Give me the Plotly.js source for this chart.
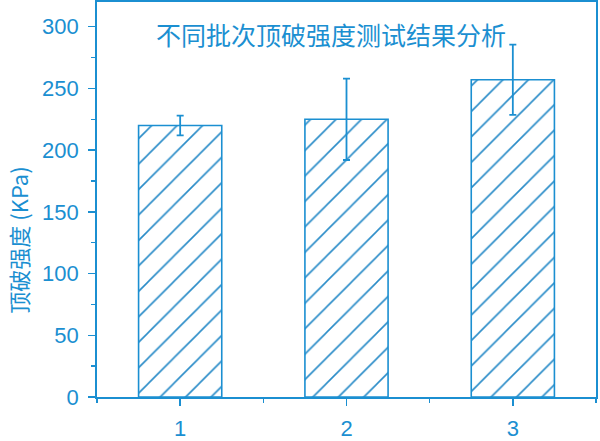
<!DOCTYPE html>
<html>
<head>
<meta charset="utf-8">
<script src="https://cdn.plot.ly/plotly-3.0.1.min.js"></script>
<style>
  body { margin: 0; background: #fff; }
  #chart { width: 600px; height: 441px; }
</style>
</head>
<body>
<div id="chart"></div>
<script>
// 不同批次顶破强度
var batches = [1, 2, 3];
var batchLabels = ['1', '2', '3'];
var strength = [220, 225, 257];
var strengthErr = [8, 33, 28.5];

var blue = '#1b8fd1';
var fontFam = '"Liberation Sans", Arial, "Noto Sans CJK SC", sans-serif';

var trace = {
  type: 'bar',
  x: batches,
  y: strength,
  width: 0.5,
  marker: {
    color: 'white',
    line: { color: blue, width: 1.6 },
    pattern: { shape: '/', fgcolor: '#2a8cc8', bgcolor: 'white', size: 18, solidity: 0.09 }
  },
  error_y: {
    type: 'data',
    array: strengthErr,
    visible: true,
    color: blue,
    thickness: 1.8,
    width: 3.5
  },
  hoverinfo: 'none'
};

var layout = {
  width: 600,
  height: 441,
  margin: { l: 97, r: 4, t: 2, b: 43.5 },
  paper_bgcolor: 'white',
  plot_bgcolor: 'white',
  showlegend: false,
  font: { family: fontFam, color: blue, size: 22 },
  title: {
    text: '不同批次顶破强度测试结果分析',
    font: { family: '"Noto Sans CJK SC", sans-serif', size: 25, color: blue },
    xref: 'paper',
    x: 0.469,
    xanchor: 'center',
    yref: 'container',
    y: 1 - 36 / 441,
    yanchor: 'middle'
  },
  xaxis: {
    range: [0.5, 3.5],
    tickvals: batches,
    ticktext: batchLabels,
    ticks: 'outside',
    ticklen: 7,
    tickwidth: 1.5,
    tickcolor: blue,
    ticklabelstandoff: 4,
    showline: true,
    mirror: true,
    linecolor: blue,
    linewidth: 1.8,
    showgrid: false,
    zeroline: false,
    minor: { tick0: 0.5, dtick: 1, ticks: 'outside', ticklen: 4, tickcolor: blue, showgrid: false },
    tickfont: { size: 22, color: blue }
  },
  yaxis: {
    range: [0, 320],
    tickvals: [0, 50, 100, 150, 200, 250, 300],
    ticks: 'outside',
    ticklen: 7,
    tickwidth: 1.5,
    tickcolor: blue,
    ticklabelstandoff: 5,
    showline: true,
    mirror: true,
    linecolor: blue,
    linewidth: 1.8,
    showgrid: false,
    zeroline: false,
    minor: { tick0: 0, dtick: 25, ticks: 'outside', ticklen: 4, tickcolor: blue, showgrid: false },
    tickfont: { size: 22, color: blue }
  },
  annotations: [{
    text: '顶破强度 (KPa)',
    textangle: -90,
    xref: 'paper',
    yref: 'paper',
    x: -79 / 499,
    y: (397.5 - 241) / 395.5,
    xanchor: 'center',
    yanchor: 'middle',
    showarrow: false,
    font: { family: '"Noto Sans CJK SC", "Liberation Sans", sans-serif', size: 22, color: blue }
  }]
};

Plotly.newPlot('chart', [trace], layout, { displayModeBar: false, staticPlot: true });
</script>
</body>
</html>
